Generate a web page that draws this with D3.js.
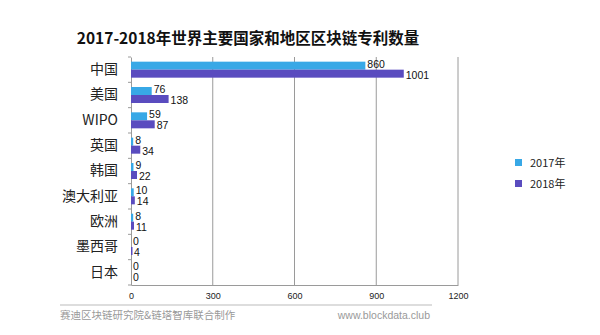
<!DOCTYPE html>
<html>
<head>
<meta charset="utf-8">
<script src="https://cdn.jsdelivr.net/npm/d3@7"></script>
<style>
  html, body { margin: 0; padding: 0; background: #fff; }
  svg { display: block; }
</style>
</head>
<body>
<svg id="chart" width="600" height="335"></svg>
<script>
// Blockchain patent counts by country / region, 2017 vs 2018
const categories = ["中国", "美国", "WIPO", "英国", "韩国", "澳大利亚", "欧洲", "墨西哥", "日本"];
const values2017 = [860, 76, 59, 8, 9, 10, 8, 0, 0];
const values2018 = [1001, 138, 87, 34, 22, 14, 11, 4, 0];
const seriesNames = ["2017年", "2018年"];
const xTicks = [0, 300, 600, 900, 1200];

const colors = ["#38a8e6", "#5a4cbf"];
const sans = "'Liberation Sans', Arial, 'Noto Sans CJK SC', sans-serif";
const cjk = "'Noto Sans CJK SC', 'Liberation Sans', sans-serif";

const svg = d3.select("#chart");
const left = 131;

const x = d3.scaleLinear().domain([0, 1200]).range([left, 458]);
const y = d3.scaleBand().domain(categories).range([57, 285]);
const barH = 8;

// title
svg.append("text")
  .attr("x", 248).attr("y", 44)
  .attr("text-anchor", "middle")
  .attr("font-family", cjk)
  .attr("font-weight", "bold")
  .attr("font-size", 15.5)
  .attr("fill", "#111")
  .text("2017-2018年世界主要国家和地区区块链专利数量");

// vertical gridlines
svg.append("g").selectAll("line")
  .data(xTicks.filter(d => d > 0))
  .join("line")
  .attr("x1", d => x(d)).attr("x2", d => x(d))
  .attr("y1", 57).attr("y2", 285)
  .attr("stroke", "#9a9a9a").attr("stroke-width", 1);

// bottom axis (line + labels below)
const xAxis = svg.append("g")
  .attr("transform", "translate(0,285)")
  .call(d3.axisBottom(x).tickValues(xTicks).tickFormat(d3.format("d")).tickSize(0).tickPadding(8));
xAxis.select(".domain").attr("stroke", "#9a9a9a");
xAxis.selectAll("text")
  .attr("font-family", sans).attr("font-size", 9).attr("fill", "#222");

// left axis with category labels
const yAxis = svg.append("g")
  .attr("transform", `translate(${left},0)`)
  .call(d3.axisLeft(y).tickSize(0).tickPadding(13));
yAxis.select(".domain").attr("stroke", "#9a9a9a");
yAxis.selectAll("text")
  .attr("font-family", cjk).attr("font-size", 14).attr("fill", "#222");

// small ticks between categories
svg.append("g").selectAll("line")
  .data(categories.map(c => y(c)).concat([y.range()[1]]))
  .join("line")
  .attr("x1", left - 3).attr("x2", left)
  .attr("y1", d => d).attr("y2", d => d)
  .attr("stroke", "#9a9a9a");

// bars and value labels
const rows = categories.map((c, i) => ({ c, v: [values2017[i], values2018[i]] }));
const g = svg.append("g");
[0, 1].forEach(s => {
  const off = y.bandwidth() / 2 - barH + s * barH;
  g.selectAll(`.bar${s}`)
    .data(rows)
    .join("rect")
    .attr("class", `bar${s}`)
    .attr("x", x(0))
    .attr("y", d => y(d.c) + off)
    .attr("width", d => Math.max(x(d.v[s]) - x(0), d.v[s] > 0 ? 1.5 : 0))
    .attr("height", barH)
    .attr("fill", colors[s]);

  g.selectAll(`.lab${s}`)
    .data(rows)
    .join("text")
    .attr("class", `lab${s}`)
    .attr("x", d => x(d.v[s]) + 2)
    .attr("y", d => y(d.c) + off + barH + (s === 0 ? -2 : 1))
    .attr("font-family", sans)
    .attr("font-size", 10.5)
    .attr("fill", "#111")
    .text(d => d.v[s]);
});

// legend
const lg = svg.append("g");
seriesNames.forEach((n, i) => {
  lg.append("rect")
    .attr("x", 515).attr("y", 159 + i * 21)
    .attr("width", 7).attr("height", 7)
    .attr("fill", colors[i]);
  lg.append("text")
    .attr("x", 530).attr("y", 167 + i * 21)
    .attr("font-family", cjk).attr("font-size", 11)
    .attr("fill", "#222")
    .text(n);
});

// footer
svg.append("line")
  .attr("x1", 60).attr("x2", 432)
  .attr("y1", 305).attr("y2", 305)
  .attr("stroke", "#bbb");
svg.append("text")
  .attr("x", 60).attr("y", 319)
  .attr("font-family", cjk).attr("font-size", 10.5)
  .attr("fill", "#999")
  .text("赛迪区块链研究院&链塔智库联合制作");
svg.append("text")
  .attr("x", 430).attr("y", 319)
  .attr("text-anchor", "end")
  .attr("font-family", sans).attr("font-size", 10.5)
  .attr("fill", "#999")
  .text("www.blockdata.club");
</script>
</body>
</html>
